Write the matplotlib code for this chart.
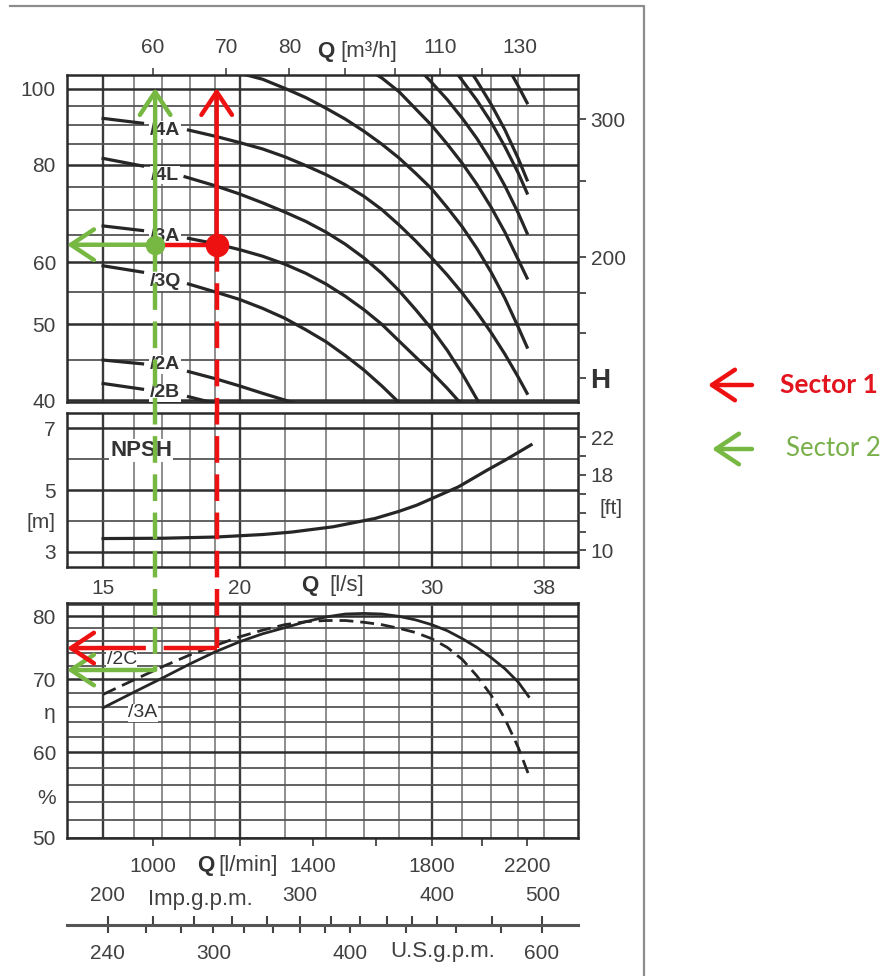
import numpy as np
import matplotlib
matplotlib.use("Agg")
import matplotlib.pyplot as plt
from matplotlib.lines import Line2D
from matplotlib.patches import FancyArrowPatch
from matplotlib.ticker import NullLocator

plt.rcParams['font.family'] = ['Liberation Sans Narrow', 'Liberation Sans', 'DejaVu Sans']

# ---------------- data (Q in l/s, H in m, NPSH in m, eta in %) ----------------
q_lim = (13.9, 40.84)
h_lim = (39.77, 104.2)
npsh_lim = (2.51, 7.49)
eta_lim = (50.0, 82.3)

# unlabelled H-Q curves coming in from the top right
top_q = [
    [35.54, 36.0, 36.68],
    [32.73, 33, 34, 35, 36, 36.68],
    [31.71, 32, 33, 34, 35, 36, 36.68],
    [29.55, 30, 31, 32, 33, 34, 35, 36, 36.68],
    [26.73, 27, 28, 29, 30, 31, 32, 33, 34, 35, 36, 36.68],
    [20.3, 21, 22, 23, 24, 25, 26, 27, 28, 29, 30, 31, 32, 33, 34, 35, 36, 36.68],
]
top_h = [
    [104.2, 100.9, 96.0],
    [104.2, 102.4, 95.6, 88.7, 81.5, 76.5],
    [104.2, 102.5, 96.7, 90.7, 84.4, 78.1, 73.6],
    [104.2, 101.9, 96.9, 91.7, 86.4, 80.9, 75.2, 69.4, 65.4],
    [104.2, 103.3, 99.2, 94.3, 89.8, 85.0, 80.3, 75.5, 70.6, 65.6, 60.5, 57.3],
    [104.2, 102.9, 100.2, 97.5, 94.5, 91.5, 88.3, 85.0, 81.6, 78.0, 74.5, 70.5, 66.6, 62.5,
     58.3, 54.0, 49.6, 46.75],
]

# labelled H-Q curves: short piece left of the label + the rest
names = ['/4A', '/4L', '/3A', '/3Q', '/2A', '/2B']
stub_q = [15.0, 16.3]
stub_h = [[91.7, 90.4], [81.5, 79.7], [66.8, 65.9], [59.4, 58.3], [45.0, 44.5], [42.0, 41.3]]
main_q = [
    [17.96, 19, 20, 21, 22, 23, 24, 25, 26, 27, 28, 29, 30, 31, 32, 33, 34, 35, 36, 36.68],
    [17.83, 19, 20, 21, 22, 23, 24, 25, 26, 27, 28, 29, 30, 31, 32, 33, 33.4],
    [17.96, 19, 20, 21, 22, 23, 24, 25, 26, 27, 28, 29, 30, 31, 32],
    [17.96, 19, 20, 21, 22, 23, 24, 25, 26, 27, 28, 28.3],
    [17.96, 19, 20, 21, 22, 22.9],
    [17.96, 19.0],
]
main_h = [
    [88.6, 87.0, 85.4, 83.8, 81.9, 79.8, 77.7, 75.4, 72.9, 70.1, 67.0, 63.9, 60.8, 57.8, 54.8,
     51.8, 48.8, 45.8, 42.8, 40.8],
    [77.2, 75.2, 73.4, 71.5, 69.6, 67.7, 65.6, 63.3, 60.8, 58.1, 55.2, 52.2, 49.3, 46.3, 43.2,
     40.1, 38.9],
    [64.4, 63.4, 62.3, 61.1, 59.7, 58.1, 56.3, 54.3, 52.2, 50.0, 47.6, 45.4, 43.4, 41.4, 39.4],
    [56.3, 55.0, 53.8, 52.4, 50.9, 49.2, 47.5, 45.6, 43.7, 41.7, 39.7, 39.1],
    [43.5, 42.6, 41.7, 40.8, 40.0, 39.3],
    [40.4, 39.6],
]
label_q = 17.1
label_h = [88.6, 77.6, 64.7, 56.7, 44.4, 40.85]

npsh_q = [15.0, 17.0, 19.06, 21.0, 22.33, 24.36, 26.62, 28.0, 29.07, 31.73, 33.75, 35.0, 36.99]
npsh_m = [3.43, 3.44, 3.48, 3.56, 3.64, 3.81, 4.08, 4.31, 4.51, 5.10, 5.65, 5.96, 6.46]

eta3a_q = [15, 16, 17, 18, 19, 20, 21, 22, 23, 24, 25, 26, 27, 28, 29, 30, 31, 32, 33, 34, 35, 36, 36.8]
eta3a = [65.9, 68.1, 70.2, 72.3, 74.2, 75.8, 77.1, 78.1, 79.1, 79.9, 80.4, 80.5, 80.4, 80.0, 79.4,
         78.6, 77.6, 76.3, 74.9, 73.3, 71.6, 69.6, 67.5]
eta2c_q = [15, 16, 17, 18, 19, 20, 21, 22, 23, 24, 25, 26, 27, 28, 29, 30, 31, 32, 33, 34, 35, 36, 36.8]
eta2c = [67.8, 69.9, 71.9, 73.7, 75.2, 76.6, 77.7, 78.6, 79.1, 79.3, 79.3, 79.0, 78.6, 78.0, 77.3,
         76.3, 74.9, 73.0, 70.5, 67.7, 64.4, 60.6, 57.2]

# duty points read for the two sectors
sec1 = dict(q=19.06, h=63.2, eta=74.8)
sec2 = dict(q=16.74, h=63.2, eta=71.4)
h_arrow_top = 100.3

# grids / scales
grid_q = [15, 16, 17, 18, 19, 20, 22, 24, 26, 28, 30, 32, 34, 36, 38]
grid_q_major = [15, 20, 30]
grid_h = [40, 45, 50, 55, 60, 65, 70, 75, 80, 85, 90, 95, 100]
grid_h_major = [40, 50, 60, 80, 100]
grid_npsh = [3, 4, 5, 6, 7]
grid_npsh_major = [3, 5, 7]
grid_eta = list(range(50, 84, 2))
grid_eta_major = [50, 60, 70, 80]

m3h_ticks = [60, 70, 80, 90, 100, 110, 120, 130]
m3h_labels = ['60', '70', '80', '', '', '110', '', '130']
h_ticks = [40, 50, 60, 80, 100]
ft_ticks = [140, 160, 180, 200, 250, 300]
ft_labels = ['H', '', '', '200', '', '300']
npsh_ticks = [3, 4, 5, 7]
npsh_labels = ['3', '[m]', '5', '7']
npsh_ft_ticks = [10, 12, 14, 16, 18, 20, 22]
npsh_ft_labels = ['10', '', '', '', '18', '', '22']
ls_ticks = [15, 20, 30, 38]
eta_ticks = [50, 54.6, 60, 65.4, 70, 80]
eta_labels = ['50', '%', '60', 'η', '70', '80']
lmin_ticks = [1000, 1200, 1400, 1600, 1800, 2000, 2200]
lmin_labels = ['1000', '', '1400', '', '1800', '', '2200']
imp_ticks = [200, 220, 240, 260, 280, 300, 320, 340, 360, 380, 400, 450, 500]
imp_labels = ['200', '', '', '', '', '300', '', '', '', '', '400', '', '500']
us_ticks = [240, 260, 280, 300, 320, 340, 360, 380, 400, 450, 500, 550, 600]
us_labels = ['240', '', '', '300', '', '', '', '', '400', '', '', '', '600']

# ---------------- figure ----------------
W, H = 894, 976
fig = plt.figure(figsize=(W / 100, H / 100), dpi=100)
txt = '#404040'
ink = '#262626'


def box(l, t, r, b):
    return [l / W, 1 - b / H, (r - l) / W, (b - t) / H]


def P(x, y):
    return (x / W, 1 - y / H)


def clean(ax):
    ax.xaxis.set_minor_locator(NullLocator())
    ax.yaxis.set_minor_locator(NullLocator())
    for s in ax.spines.values():
        s.set_color('#2a2a2a')
        s.set_linewidth(1.8)


def grid(ax, hv, hmaj):
    for q in grid_q:
        major = q in grid_q_major
        ax.axvline(q, color='#3a3a3a' if major else '#7a7a7a', lw=1.7 if major else 1.2, zorder=1)
    for v in hv:
        major = v in hmaj
        ax.axhline(v, color='#2e2e2e' if major else '#555555', lw=1.8 if major else 1.3, zorder=1)


ax_h = fig.add_axes(box(67, 75, 578, 402))
ax_n = fig.add_axes(box(67, 413, 578, 567))
ax_e = fig.add_axes(box(67, 603, 578, 838))

# --- H panel ---
ax_h.set_xscale('log')
ax_h.set_yscale('log')
ax_h.set_xlim(q_lim)
ax_h.set_ylim(h_lim)
clean(ax_h)
grid(ax_h, grid_h, grid_h_major)
for qs, hs in zip(top_q, top_h):
    ax_h.plot(qs, hs, color=ink, lw=2.3, zorder=3)
for i in range(len(names)):
    ax_h.plot(stub_q, stub_h[i], color=ink, lw=2.3, zorder=3)
    ax_h.plot(main_q[i], main_h[i], color=ink, lw=2.3, zorder=3)
    ax_h.text(label_q, label_h[i], names[i], ha='center', va='center', fontsize=14,
              fontweight='bold', color='#333333', zorder=4, clip_on=True,
              bbox=dict(facecolor='white', edgecolor='none', pad=0.5))
ax_h.set_yticks(h_ticks, [str(v) for v in h_ticks])
ax_h.tick_params(axis='y', length=0, pad=8, labelsize=15, labelcolor=txt)
ax_h.xaxis.tick_top()
ax_h.set_xticks([v / 3.6 for v in m3h_ticks], m3h_labels)
ax_h.tick_params(axis='x', direction='out', length=5, width=1.3, pad=8, labelsize=15,
                 labelcolor=txt, color='#555555')
ax_h.xaxis.set_minor_locator(NullLocator())
axr = ax_h.twinx()
axr.set_yscale('log')
axr.set_ylim(h_lim[0] / 0.3048, h_lim[1] / 0.3048)
axr.yaxis.set_minor_locator(NullLocator())
axr.set_yticks(ft_ticks, ft_labels)
axr.tick_params(axis='y', direction='out', length=6, width=1.3, pad=3, labelsize=15,
                labelcolor=txt, color='#444444')
for lab in axr.get_yticklabels():
    if lab.get_text() == 'H':
        lab.set_fontweight('bold')
        lab.set_fontsize(20)
        lab.set_color('#333333')
for s in axr.spines.values():
    s.set_visible(False)

# --- NPSH panel ---
ax_n.set_xscale('log')
ax_n.set_xlim(q_lim)
ax_n.set_ylim(npsh_lim)
clean(ax_n)
grid(ax_n, grid_npsh, grid_npsh_major)
ax_n.plot(npsh_q, npsh_m, color=ink, lw=2.3, zorder=3)
ax_n.set_yticks(npsh_ticks, npsh_labels)
ax_n.tick_params(axis='y', length=0, pad=8, labelsize=15, labelcolor=txt)
ax_n.set_xticks(ls_ticks, [str(v) for v in ls_ticks])
ax_n.xaxis.set_minor_locator(NullLocator())
ax_n.tick_params(axis='x', length=0, pad=9, labelsize=15, labelcolor=txt)
ax_n.text(16.25, 6.28, 'NPSH', ha='center', va='center', fontsize=16, fontweight='bold',
          color='#333333', zorder=4, bbox=dict(facecolor='white', edgecolor='none', pad=1.0))
axnr = ax_n.twinx()
axnr.set_ylim(npsh_lim[0] / 0.3048, npsh_lim[1] / 0.3048)
axnr.set_yticks(npsh_ft_ticks, npsh_ft_labels)
axnr.tick_params(axis='y', direction='out', length=6, width=1.3, pad=3, labelsize=15,
                 labelcolor=txt, color='#444444')
for s in axnr.spines.values():
    s.set_visible(False)

# --- efficiency panel ---
ax_e.set_xscale('log')
ax_e.set_yscale('log')
ax_e.set_xlim(q_lim)
ax_e.set_ylim(eta_lim)
clean(ax_e)
grid(ax_e, grid_eta, grid_eta_major)
ax_e.plot(eta3a_q, eta3a, color=ink, lw=2.0, zorder=3)
ax_e.plot(eta2c_q, eta2c, color=ink, lw=2.0, zorder=3, linestyle=(0, (5, 2.5)))
ax_e.text(15.6, 73.0, '/2C', ha='center', va='center', fontsize=14, color='#333333', zorder=4,
          bbox=dict(facecolor='white', edgecolor='none', pad=0.3))
ax_e.text(16.3, 65.2, '/3A', ha='center', va='center', fontsize=14, color='#333333', zorder=4,
          bbox=dict(facecolor='white', edgecolor='none', pad=0.3))
ax_e.set_yticks(eta_ticks, eta_labels)
ax_e.yaxis.set_minor_locator(NullLocator())
ax_e.tick_params(axis='y', length=0, pad=8, labelsize=15, labelcolor=txt)
ax_e.set_xticks([v / 60 for v in lmin_ticks], lmin_labels)
ax_e.xaxis.set_minor_locator(NullLocator())
ax_e.tick_params(axis='x', direction='out', length=6, width=1.3, pad=8, labelsize=15,
                 labelcolor=txt, color='#444444')

# --- gallons scale at the bottom ---
ax_us = fig.add_axes(box(67, 924, 578, 925))
ax_imp = fig.add_axes(box(67, 924, 578, 925))
for a in (ax_us, ax_imp):
    a.set_xscale('log')
    a.set_xlim(q_lim)
    a.set_yticks([])
    a.patch.set_visible(False)
    a.xaxis.set_minor_locator(NullLocator())
    for s in a.spines.values():
        s.set_visible(False)
ax_us.spines['bottom'].set_visible(True)
ax_us.spines['bottom'].set_color('#555555')
ax_us.spines['bottom'].set_linewidth(2.2)
ax_us.set_xticks([v * 3.785411784 / 60 for v in us_ticks], us_labels)
ax_us.xaxis.set_minor_locator(NullLocator())
ax_us.tick_params(axis='x', direction='out', length=6, width=1.5, pad=8, labelsize=15,
                  labelcolor=txt, color='#444444')
ax_imp.xaxis.tick_top()
ax_imp.set_xticks([v * 4.54609 / 60 for v in imp_ticks], imp_labels)
ax_imp.xaxis.set_minor_locator(NullLocator())
ax_imp.tick_params(axis='x', direction='out', length=6, width=1.5, pad=8, labelsize=15,
                   labelcolor=txt, color='#444444')

# --- axis titles ---
fig.text(*P(334, 52), 'Q', ha='right', va='center', fontsize=16, fontweight='bold', color='#333333')
fig.text(*P(340, 52), '[m³/h]', ha='left', va='center', fontsize=16, color=txt)
fig.text(*P(318, 586), 'Q', ha='right', va='center', fontsize=16, fontweight='bold', color='#333333')
fig.text(*P(329, 586), '[l/s]', ha='left', va='center', fontsize=16, color=txt)
fig.text(*P(214, 865), 'Q', ha='right', va='center', fontsize=16, fontweight='bold', color='#333333')
fig.text(*P(218, 865), '[l/min]', ha='left', va='center', fontsize=16, color=txt)
fig.text(*P(200, 900), 'Imp.g.p.m.', ha='center', va='center', fontsize=16, color=txt)
fig.text(*P(443, 951), 'U.S.g.p.m.', ha='center', va='center', fontsize=16, color=txt)
fig.text(*P(611, 508), '[ft]', ha='center', va='center', fontsize=15, color=txt)

# --- frame around the scan ---
fig.add_artist(Line2D([10 / W, 644 / W, 644 / W], [1 - 6 / H, 1 - 6 / H, 0], transform=fig.transFigure,
                      color='#8c8c8c', lw=1.6))

# --- sector overlays ---
red = '#ee1111'
green = '#77b843'


def fxy(ax, x, y):
    return fig.transFigure.inverted().transform(ax.transData.transform((x, y)))


def arrow(p0, p1, color, ls='-'):
    fig.add_artist(FancyArrowPatch(p0, p1, transform=fig.transFigure,
                                   arrowstyle='->,head_length=0.75,head_width=0.5', mutation_scale=22,
                                   lw=3.2, color=color, zorder=20, shrinkA=0, shrinkB=0, linestyle=ls))


def line(ps, color, ls='-'):
    fig.add_artist(Line2D([p[0] for p in ps], [p[1] for p in ps], transform=fig.transFigure,
                          color=color, lw=3.2, linestyle=ls, zorder=19, solid_capstyle='butt',
                          dash_capstyle='butt'))


dash = (0, (6, 2.6))
for sec, col in ((sec2, green), (sec1, red)):
    dot = fxy(ax_h, sec['q'], sec['h'])
    top = fxy(ax_h, sec['q'], h_arrow_top)
    low = fxy(ax_e, sec['q'], sec['eta'])
    left = fxy(ax_e, q_lim[0], sec['eta'])
    arrow(dot, top, col)
    line([dot, low], col, dash)
    if col == red:
        mid = (left[0] + 30 / W, left[1])
        line([low, mid], col, (0, (12, 4)))
        arrow(mid, left, col)
    else:
        arrow(low, left, col)
        arrow(dot, fxy(ax_h, q_lim[0], sec['h']), col)

d1 = fxy(ax_h, sec1['q'], sec1['h'])
d2 = fxy(ax_h, sec2['q'], sec2['h'])
line([d2, d1], red)
fig.add_artist(Line2D([d2[0]], [d2[1]], transform=fig.transFigure, marker='o', ms=13,
                      color=green, zorder=22))
fig.add_artist(Line2D([d1[0]], [d1[1]], transform=fig.transFigure, marker='o', ms=16,
                      color=red, zorder=22))

# legend on the right
arrow(P(752, 385), P(708, 385), red)
arrow(P(752, 449), P(712, 449), green)
fig.text(*P(780, 385), 'Sector 1', ha='left', va='center', fontsize=19, fontweight='bold',
         color='#e2141e', family=['Lato', 'DejaVu Sans'])
fig.text(*P(786, 449), 'Sector 2', ha='left', va='center', fontsize=18.5,
         color='#7ab04c', family=['Lato', 'DejaVu Sans'])

fig.savefig('out.png', dpi=100, facecolor='white')
